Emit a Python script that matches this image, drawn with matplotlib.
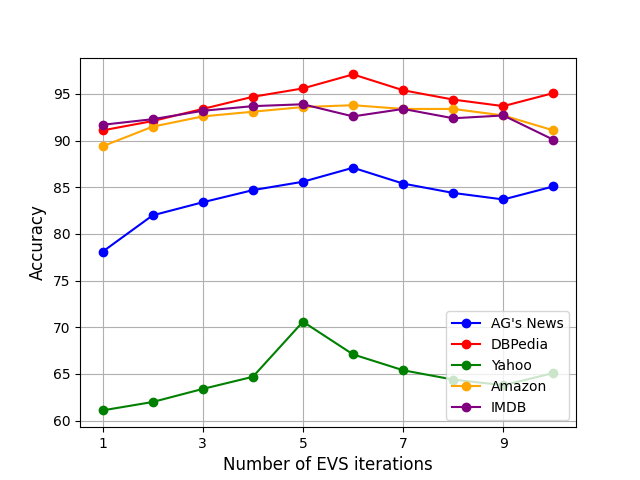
import matplotlib
matplotlib.use('Agg')
import matplotlib.pyplot as plt

iterations = [1, 2, 3, 4, 5, 6, 7, 8, 9, 10]
ag_news = [78.1, 82.0, 83.4, 84.7, 85.6, 87.1, 85.4, 84.4, 83.7, 85.1]
dbpedia = [91.1, 92.1, 93.4, 94.7, 95.6, 97.1, 95.4, 94.4, 93.7, 95.1]
yahoo = [61.1, 62.0, 63.4, 64.7, 70.6, 67.1, 65.4, 64.4, 63.8, 65.1]
amazon = [89.4, 91.5, 92.6, 93.1, 93.6, 93.8, 93.4, 93.4, 92.7, 91.1]
imdb = [91.7, 92.3, 93.2, 93.7, 93.9, 92.6, 93.4, 92.4, 92.7, 90.1]

fig = plt.figure(figsize=(6.4, 4.8), dpi=100)
plt.plot(iterations, ag_news, marker='o', color='blue', label="AG's News")
plt.plot(iterations, dbpedia, marker='o', color='red', label='DBPedia')
plt.plot(iterations, yahoo, marker='o', color='green', label='Yahoo')
plt.plot(iterations, amazon, marker='o', color='orange', label='Amazon')
plt.plot(iterations, imdb, marker='o', color='purple', label='IMDB')
plt.xticks([1, 3, 5, 7, 9])
plt.xlabel('Number of EVS iterations', fontsize=12)
plt.ylabel('Accuracy', fontsize=12)
plt.legend(loc='lower right')
plt.grid(True)
plt.savefig('out.png', dpi=100)
